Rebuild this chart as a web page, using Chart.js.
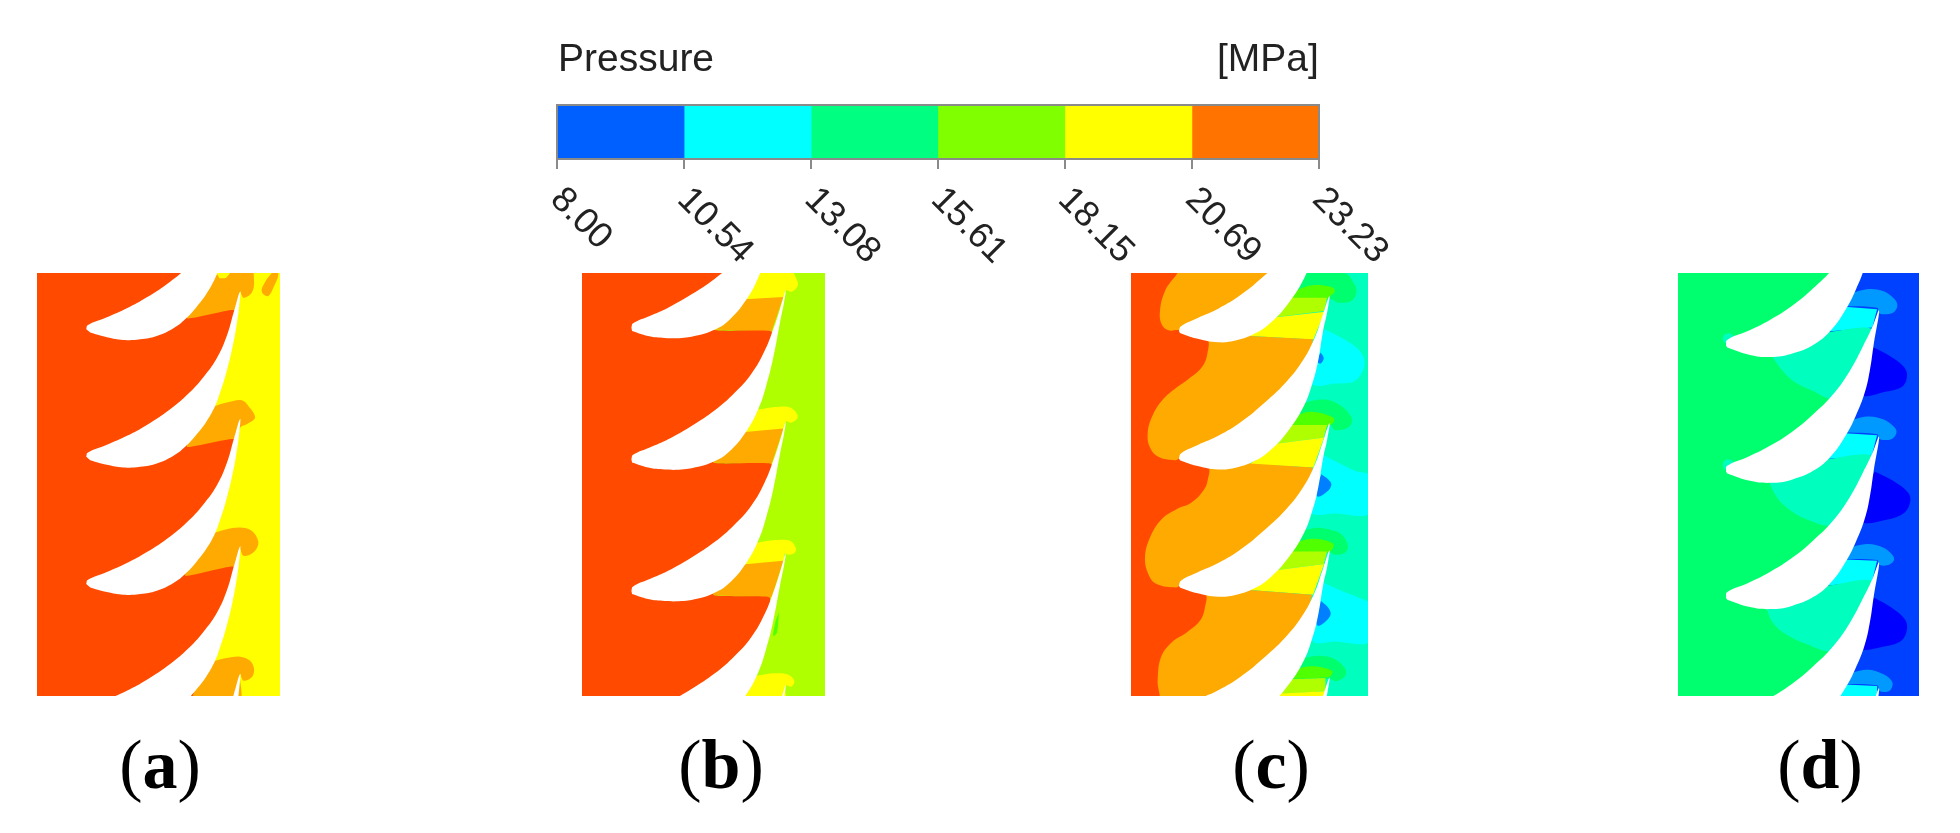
<!DOCTYPE html>
<html lang="en">
  <head>
    <meta charset="UTF-8" />
    <title>Pressure contours</title>
    <style>
      html, body { margin: 0; background: #fff; width: 1960px; height: 833px; overflow: hidden; }
      canvas { position: absolute; filter: blur(0.7px); }
      .txt { position: absolute; white-space: nowrap; line-height: 1; }
      .sans { font-family: "Liberation Sans", sans-serif; font-size: 39px; color: #222; filter: blur(0.5px); }
      .cap { font-family: "Liberation Serif", serif; font-size: 70px; color: #000; transform: translateX(-50%); }
      .cap b { font-weight: bold; }
    </style>
    <script src="https://cdn.jsdelivr.net/npm/chart.js"></script>
  </head>
  <body>
    <div class="txt sans" style="left:558px;top:38px">Pressure</div>
    <div class="txt sans" style="left:1217px;top:38px">[MPa]</div>
    <canvas id="bar" width="900" height="190" style="left:500px;top:90px"></canvas>
    <canvas id="a" width="243" height="423" style="left:37px;top:273px"></canvas>
    <canvas id="b" width="243" height="423" style="left:582px;top:273px"></canvas>
    <canvas id="c" width="237" height="423" style="left:1131px;top:273px"></canvas>
    <canvas id="d" width="241" height="423" style="left:1678px;top:273px"></canvas>
    <div class="txt cap" style="left:160px;top:730px">(<b>a</b>)</div>
    <div class="txt cap" style="left:721px;top:730px">(<b>b</b>)</div>
    <div class="txt cap" style="left:1271px;top:730px">(<b>c</b>)</div>
    <div class="txt cap" style="left:1820px;top:730px">(<b>d</b>)</div>
    <script>
      // colour bar
      const pressureEdges = [8.0, 10.54, 13.08, 15.61, 18.15, 20.69, 23.23];
      const pressureLabels = ["8.00", "10.54", "13.08", "15.61", "18.15", "20.69", "23.23"];
      const bandColors = ["#0060ff", "#00ffff", "#00ff80", "#80ff00", "#ffff00", "#ff7300"];

      const RED = "#ff4a00", ORANGE = "#ffaa00", YELLOW = "#ffff00", LIME = "#b0ff00";
      const STRIP = "#50ff00", GREEN = "#00ff6e", TEAL = "#00ffbf", CYAN = "#00ffff";
      const SKY = "#0099ff", BLUE = "#0040ff", DEEP = "#0000ff", WHITE = "#ffffff";

      // panel a
      const bladeA = [[168,568],[172,556],[230,532],[290,505],[350,472],[420,425],[475,378],[525,322],[562,268],[590,205],[612,130],[630,72],[628,110],[620,170],[607,240],[590,310],[570,375],[555,415],[530,460],[500,500],[465,538],[430,565],[380,588],[330,598],[280,600],[230,592],[180,578]];
      const bladeOffsetsA = [-383, 0, 382, 765, 1148];
      const redA = [[0,0],[490,0],[470,152],[612,128],[590,280],[520,420],[470,538],[612,515],[570,660],[520,800],[465,925],[610,898],[575,1040],[520,1180],[488,1286],[470,1302],[0,1302]];
      const orangeA1 = [[400,0],[660,0],[672,40],[665,75],[640,90],[630,72],[622,120],[612,135],[470,160]];
      const orangeA2 = [[500,430],[555,415],[590,405],[635,398],[655,415],[675,450],[650,470],[632,478],[622,500],[612,520],[450,545]];
      const orangeA3 = [[500,810],[555,795],[590,785],[630,780],[665,790],[685,825],[670,855],[640,865],[630,845],[622,880],[610,905],[445,930]];
      const orangeA4 = [[500,1195],[555,1180],[590,1172],[630,1168],[660,1180],[672,1205],[665,1230],[640,1240],[630,1220],[625,1310],[450,1310]];
      const orangeA5 = [[730,10],[745,20],[730,60],[715,85],[700,80],[695,65],[710,35]];
      const yellowA1 = [[556,10],[600,10],[588,30],[568,32]];

      // panel b
      const bladeB = [[170,575],[175,562],[225,540],[280,515],[350,475],[420,428],[480,375],[530,318],[568,252],[595,185],[615,125],[632,68],[628,100],[615,165],[595,270],[575,350],[552,420],[515,490],[460,555],[415,583],[370,598],[320,606],[270,606],[220,600],[172,585]];
      const bladeOffsetsB = [-395, 0, 395, 790, 1185];
      const redB = [[0,0],[470,0],[415,185],[590,192],[565,320],[480,470],[415,585],[590,590],[565,730],[480,870],[415,983],[585,990],[560,1120],[470,1270],[440,1302],[0,1302]];
      const yellowB1 = [[500,0],[640,0],[665,35],[668,55],[650,72],[632,68],[625,90],[470,97]];
      const yellowB2 = [[515,430],[555,425],[600,418],[640,418],[660,430],[668,450],[650,465],[632,462],[625,487],[470,497]];
      const yellowB3 = [[515,830],[550,825],[600,818],[645,820],[662,840],[660,855],[640,862],[630,858],[622,884],[470,894]];
      const yellowB4 = [[510,1230],[545,1225],[600,1218],[640,1222],[658,1240],[650,1258],[632,1255],[628,1310],[470,1310]];
      const orangeB1 = [[470,97],[625,88],[590,192],[390,185]];
      const orangeB2 = [[470,497],[625,483],[590,590],[390,585]];
      const orangeB3 = [[470,894],[625,880],[590,990],[390,983]];
      const streakB = [[612,1035],[606,1095],[595,1105],[602,1060]];

      // panel c
      const bladeC = [[172,572],[178,558],[230,532],[290,505],[360,462],[430,405],[490,348],[540,285],[578,215],[603,145],[624,85],[618,130],[605,190],[590,280],[572,350],[545,420],[500,490],[450,545],[400,580],[345,600],[290,606],[225,595],[175,578]];
      const bladeOffsetsC = [-382, 0, 382, 764, 1146];
      const redC = [[0,0],[168,0],[130,70],[115,130],[120,170],[140,188],[175,188],[255,212],[257,260],[240,300],[200,335],[165,360],[120,400],[90,450],[78,500],[85,540],[110,568],[160,578],[178,572],[258,595],[258,640],[245,670],[210,705],[165,725],[120,755],[85,810],[70,870],[80,920],[105,950],[165,960],[178,953],[250,978],[250,1020],[235,1060],[195,1095],[150,1125],[118,1170],[108,1240],[108,1302],[0,1302]];
      const orangeC = [[0,0],[480,0],[385,205],[575,215],[560,320],[480,480],[385,588],[575,600],[555,700],[480,860],[385,968],[572,982],[550,1080],[470,1240],[440,1302],[0,1302]];
      const cyanC1 = [[610,185],[650,205],[700,235],[725,265],[728,300],[700,340],[640,348],[575,352],[560,300]];
      const cyanC2 = [[600,560],[650,585],[700,610],[745,625],[745,737],[640,738],[570,738],[560,680]];
      const cyanC3 = [[605,945],[660,970],[710,990],[745,1010],[745,1122],[640,1122],[575,1122],[560,1040]];
      const azureC1 = [[598,255],[607,272],[598,288],[590,285],[592,265]];
      const azureC2 = [[600,620],[620,635],[630,650],[620,670],[590,688],[580,670]];
      const azureC3 = [[598,1000],[620,1020],[628,1040],[615,1060],[590,1075],[580,1050]];
      const greenC1 = [[510,0],[670,16],[700,50],[705,75],[690,100],[650,105],[628,95],[600,100],[480,100]];
      const greenC2 = [[510,420],[570,400],[620,397],[660,415],[688,445],[692,465],[675,483],[640,487],[626,472],[610,490],[480,470]];
      const greenC3 = [[510,800],[575,782],[620,785],[660,800],[680,835],[672,855],[640,862],[625,855],[480,860]];
      const greenC4 = [[520,1178],[590,1165],[640,1175],[672,1205],[672,1225],[645,1242],[625,1235],[480,1240]];
      const stripC1 = [[490,85],[550,58],[590,52],[635,60],[640,72],[630,82],[618,92],[480,95]];
      const stripC2 = [[490,465],[550,435],[590,435],[635,450],[638,462],[620,475],[480,475]];
      const stripC3 = [[490,845],[548,818],[590,815],[635,828],[635,842],[620,855],[480,858]];
      const stripC4 = [[490,1225],[545,1200],[590,1198],[632,1210],[632,1220],[620,1230],[480,1235]];
      const limeC1 = [[480,90],[617,90],[608,130],[450,150]];
      const limeC2 = [[480,472],[617,472],[607,510],[450,530]];
      const limeC3 = [[480,852],[617,852],[607,890],[450,910]];
      const limeC4 = [[470,1237],[612,1232],[612,1272],[450,1282]];
      const yellowC1 = [[450,150],[610,132],[576,216],[385,205]];
      const yellowC2 = [[450,530],[608,510],[576,600],[385,590]];
      const yellowC3 = [[450,910],[608,890],[575,982],[385,968]];
      const yellowC4 = [[450,1280],[612,1272],[612,1310],[450,1310]];

      // panel d
      const bladeD = [[168,612],[172,595],[230,570],[300,535],[370,490],[430,440],[490,380],[540,310],[580,235],[607,180],[628,128],[612,230],[600,310],[585,375],[560,440],[530,500],[480,570],[430,610],[370,635],[310,646],[240,640],[172,618]];
      const bladeOffsetsD = [-378, 0, 379, 757, 1135];
      const greenD = [[0,0],[530,0],[450,195],[610,185],[570,320],[480,500],[440,578],[610,565],[570,700],[480,880],[440,958],[610,942],[570,1080],[470,1270],[440,1302],[0,1302]];
      const tealD1 = [[450,197],[610,185],[575,270],[490,390],[430,370],[370,340],[330,300],[300,255]];
      const tealD2 = [[440,580],[610,565],[575,650],[490,770],[410,755],[350,720],[315,680],[295,635]];
      const tealD3 = [[450,960],[610,942],[575,1030],[490,1148],[410,1130],[340,1095],[305,1060],[288,1015]];
      const cyanD1 = [[495,115],[622,125],[608,180],[440,195]];
      const cyanD2 = [[490,495],[622,503],[607,562],[430,578]];
      const cyanD3 = [[490,875],[622,880],[607,942],[440,957]];
      const cyanD4 = [[490,1250],[622,1256],[622,1310],[470,1310]];
      const skyD1 = [[510,90],[590,65],[640,70],[675,95],[683,115],[670,135],[630,138],[622,120],[495,115]];
      const skyD2 = [[510,470],[590,447],[640,455],[675,480],[680,497],[665,515],[630,515],[622,500],[490,495]];
      const skyD3 = [[510,850],[590,830],[640,840],[670,865],[672,880],[655,893],[630,893],[622,878],[490,875]];
      const skyD4 = [[510,1228],[590,1207],[640,1220],[668,1245],[660,1270],[630,1272],[622,1254],[490,1250]];
      const deepD1 = [[612,240],[660,265],[700,295],[712,320],[700,355],[650,372],[575,382],[580,300]];
      const deepD2 = [[615,612],[670,640],[715,675],[722,700],[705,735],[650,757],[575,762],[580,680]];
      const deepD3 = [[612,990],[665,1020],[705,1055],[712,1085],[695,1120],[640,1138],[570,1142],[580,1050]];
      const noseD1 = [[158,212],[165,200],[180,198],[192,208],[175,225],[162,225]];
      const noseD2 = [[158,592],[165,578],[180,576],[192,588],[175,605],[162,605]];

      const fullRect = [[-10,-10],[800,-10],[800,1310],[-10,1310]];

      const poly = (pts, color, tension = 0.35) => ({
        data: pts.map(([x, y]) => ({ x, y })),
        showLine: true,
        fill: "shape",
        backgroundColor: color,
        borderWidth: 0,
        pointRadius: 0,
        tension,
      });

      const blades = (outline, offsets) =>
        offsets.map((off) => poly(outline.map(([x, y]) => [x, y + off]), WHITE, 0.45));

      const drawPanel = (id, xMin, xMax, layers) => {
        // first dataset is painted last, so flip the bottom-up list
        new Chart(document.getElementById(id), {
          type: "scatter",
          data: { datasets: layers.slice().reverse() },
          options: {
            responsive: false,
            animation: false,
            layout: { padding: 0 },
            plugins: { legend: { display: false }, tooltip: { enabled: false } },
            scales: {
              x: { type: "linear", display: false, min: xMin, max: xMax },
              y: { type: "linear", display: false, min: 16, max: 1286, reverse: true },
            },
          },
        });
      };

      drawPanel("a", 20, 750, [
        poly(fullRect, YELLOW, 0),
        poly(orangeA1, ORANGE), poly(orangeA2, ORANGE), poly(orangeA3, ORANGE), poly(orangeA4, ORANGE), poly(orangeA5, ORANGE),
        poly(yellowA1, YELLOW),
        poly(redA, RED, 0.1),
        ...blades(bladeA, bladeOffsetsA),
      ]);

      drawPanel("b", 22, 750, [
        poly(fullRect, LIME, 0),
        poly(streakB, "#50ff00"),
        poly(yellowB1, YELLOW), poly(yellowB2, YELLOW), poly(yellowB3, YELLOW), poly(yellowB4, YELLOW),
        poly(orangeB1, ORANGE, 0), poly(orangeB2, ORANGE, 0), poly(orangeB3, ORANGE, 0),
        poly(redB, RED, 0.1),
        ...blades(bladeB, bladeOffsetsB),
      ]);

      drawPanel("c", 28, 740, [
        poly(fullRect, TEAL, 0),
        poly(cyanC1, CYAN), poly(cyanC2, CYAN), poly(cyanC3, CYAN),
        poly(azureC1, "#0080ff"), poly(azureC2, "#0080ff"), poly(azureC3, "#0080ff"),
        poly(greenC1, GREEN), poly(greenC2, GREEN), poly(greenC3, GREEN), poly(greenC4, GREEN),
        poly(stripC1, STRIP), poly(stripC2, STRIP), poly(stripC3, STRIP), poly(stripC4, STRIP),
        poly(limeC1, LIME, 0), poly(limeC2, LIME, 0), poly(limeC3, LIME, 0), poly(limeC4, LIME, 0),
        poly(yellowC1, YELLOW, 0), poly(yellowC2, YELLOW, 0), poly(yellowC3, YELLOW, 0), poly(yellowC4, YELLOW, 0),
        poly(orangeC, ORANGE, 0),
        poly(redC, RED, 0.4),
        ...blades(bladeC, bladeOffsetsC),
      ]);

      drawPanel("d", 24, 748, [
        poly(fullRect, BLUE, 0),
        poly(deepD1, DEEP), poly(deepD2, DEEP), poly(deepD3, DEEP),
        poly(skyD1, SKY), poly(skyD2, SKY), poly(skyD3, SKY), poly(skyD4, SKY),
        poly(cyanD1, CYAN, 0), poly(cyanD2, CYAN, 0), poly(cyanD3, CYAN, 0), poly(cyanD4, CYAN, 0),
        poly(greenD, GREEN, 0),
        poly(tealD1, TEAL), poly(tealD2, TEAL), poly(tealD3, TEAL),
        poly(noseD1, TEAL), poly(noseD2, TEAL),
        ...blades(bladeD, bladeOffsetsD),
      ]);

      // frame and slanted tick labels, chart.js can only slant them the other way
      const barDecor = {
        id: "barDecor",
        afterDraw(chart) {
          const { ctx, chartArea: area, scales } = chart;
          ctx.save();
          ctx.strokeStyle = "#8a8a8a";
          ctx.lineWidth = 2;
          ctx.strokeRect(area.left, area.top, area.right - area.left, area.bottom - area.top);
          ctx.fillStyle = "#222";
          ctx.font = '36px "Liberation Sans", sans-serif';
          ctx.textAlign = "left";
          ctx.textBaseline = "middle";
          pressureEdges.forEach((v, i) => {
            ctx.save();
            ctx.translate(scales.x.getPixelForValue(v) - 1, area.bottom + 35);
            ctx.rotate(Math.PI / 4);
            ctx.fillText(pressureLabels[i], 0, 0);
            ctx.restore();
          });
          ctx.restore();
        },
      };

      new Chart(document.getElementById("bar"), {
        type: "bar",
        data: {
          labels: ["Pressure"],
          datasets: bandColors.map((color, i) => ({
            data: [[pressureEdges[i], pressureEdges[i + 1]]],
            backgroundColor: color,
            borderWidth: 0,
            barPercentage: 1,
            categoryPercentage: 1,
            grouped: false,
          })),
        },
        options: {
          indexAxis: "y",
          responsive: false,
          animation: false,
          layout: { padding: { left: 57, right: 81, top: 15, bottom: 111 } },
          plugins: { legend: { display: false }, tooltip: { enabled: false } },
          scales: {
            x: {
              type: "linear",
              min: pressureEdges[0],
              max: pressureEdges[pressureEdges.length - 1],
              afterBuildTicks: (s) => { s.ticks = pressureEdges.map((value) => ({ value })); },
              ticks: { display: false },
              grid: { drawOnChartArea: false, color: "#8a8a8a", tickLength: 10, lineWidth: 2 },
              border: { display: false },
            },
            y: { display: false },
          },
        },
        plugins: [barDecor],
      });
    </script>
  </body>
</html>
